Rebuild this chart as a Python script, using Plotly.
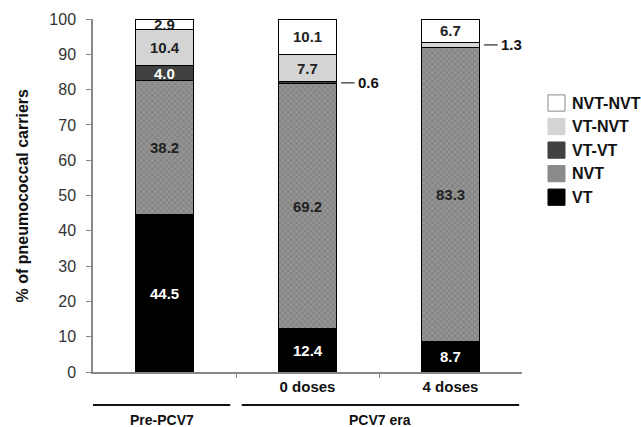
import plotly.graph_objects as go

categories = ["Pre-PCV7", "0 doses", "4 doses"]
tick_labels = ["", "0 doses", "4 doses"]
series_names = ["VT", "NVT", "VT-VT", "VT-NVT", "NVT-NVT"]
vt = [44.5, 12.4, 8.7]
nvt = [38.2, 69.2, 83.3]
vt_vt = [4.0, 0.6, 0.0]
vt_nvt = [10.4, 7.7, 1.3]
nvt_nvt = [2.9, 10.1, 6.7]
series_values = [vt, nvt, vt_vt, vt_nvt, nvt_nvt]
group_labels = ["Pre-PCV7", "PCV7 era"]
y_title = "% of pneumococcal carriers"

colors = ["#000000", "#8a8a8a", "#404040", "#d4d4d4", "#ffffff"]
text_colors = ["#ffffff", "#222222", "#ffffff", "#222222", "#222222"]
FONT = "Liberation Sans, Arial, sans-serif"
xs = list(range(len(categories)))
min_inside = 2.0  # values below this are labelled outside

fig = go.Figure()
for name, vals, col in zip(series_names, series_values, colors):
    marker = dict(color=col, line=dict(color="#000000", width=1))
    if name == "NVT":
        marker["pattern"] = dict(shape="x", fgcolor="#606060", bgcolor="#949494", size=4, solidity=0.35)
    fig.add_trace(go.Bar(x=xs, y=vals, name=name, width=0.4, marker=marker, showlegend=False))

# segment labels
for i, x in enumerate(xs):
    cum = 0.0
    for vals, tcol in zip(series_values, text_colors):
        v = vals[i]
        yc = cum + v / 2
        if v >= min_inside:
            fig.add_annotation(x=x, y=yc, text=f"<b>{v:.1f}</b>", showarrow=False,
                               xref="x", yref="y", yanchor="middle",
                               font=dict(family=FONT, size=15, color=tcol))
        elif v > 0:
            fig.add_shape(type="line", x0=x + 0.235, x1=x + 0.33, y0=yc, y1=yc,
                          xref="x", yref="y", line=dict(color="#000000", width=1))
            fig.add_annotation(x=x + 0.34, y=yc, text=f"<b>{v:.1f}</b>", showarrow=False,
                               xanchor="left", yanchor="middle", xref="x", yref="y",
                               font=dict(family=FONT, size=15, color="#111111"))
        cum += v

# manual legend (top entry = last series)
leg_x0, leg_x1, leg_tx = 1.0606, 1.1002, 1.1119
leg_top, leg_step, leg_h = 0.762, 0.0667, 0.046
for k, (name, col) in enumerate(zip(reversed(series_names), reversed(colors))):
    yc = leg_top - k * leg_step
    fig.add_shape(type="rect", x0=leg_x0, x1=leg_x1, y0=yc - leg_h / 2, y1=yc + leg_h / 2,
                  xref="paper", yref="paper", fillcolor=col,
                  line=dict(color="#888888" if col == "#ffffff" else col, width=1))
    fig.add_annotation(x=leg_tx, y=yc, text=f"<b>{name}</b>", showarrow=False,
                       xref="paper", yref="paper", xanchor="left", yanchor="middle",
                       font=dict(family=FONT, size=16, color="#111111"))

# group lines and labels under axis
groups = [(-0.5, 0.46, group_labels[0]), (0.54, 2.48, group_labels[1])]
for x0, x1, lab in groups:
    fig.add_shape(type="line", x0=x0, x1=x1, y0=-0.0935, y1=-0.0935, xref="x", yref="paper",
                  line=dict(color="#111111", width=2))
    fig.add_annotation(x=(x0 + x1) / 2, y=-0.135, text=f"<b>{lab}</b>", showarrow=False,
                       xref="x", yref="paper", yanchor="middle",
                       font=dict(family=FONT, size=14, color="#111111"))

# y-axis title
fig.add_annotation(x=-0.1655, y=0.5, text=f"<b>{y_title}</b>", showarrow=False, textangle=-90,
                   xref="paper", yref="paper", xanchor="center", yanchor="middle",
                   font=dict(family=FONT, size=16, color="#111111"))

fig.update_layout(
    width=641, height=427,
    barmode="stack",
    plot_bgcolor="#ffffff", paper_bgcolor="#ffffff",
    margin=dict(l=93, r=119, t=19, b=55, autoexpand=False),
    font=dict(family=FONT, color="#222222"),
    showlegend=False,
)

fig.update_xaxes(
    range=[-0.5, 2.5], tickvals=xs, ticktext=[f"<b>{t}</b>" if t else "" for t in tick_labels],
    ticks="", showline=True, linecolor="#888888", linewidth=1.5, automargin=False,
    tickfont=dict(family=FONT, size=15, color="#111111"),
    minor=dict(tickvals=[0.5, 1.5], ticks="outside", ticklen=4, tickcolor="#888888"),
    showgrid=False, zeroline=False,
)
fig.update_yaxes(
    range=[0, 100], dtick=10, ticks="outside", ticklen=5, tickcolor="#888888",
    showline=True, linecolor="#888888", linewidth=1.5, showgrid=False, zeroline=False,
    automargin=False, ticklabelstandoff=7,
    tickfont=dict(family=FONT, size=16, color="#333333"),
)

fig.write_html("out.html", config={"displayModeBar": False},
               post_script="document.body.style.margin='0px';")
